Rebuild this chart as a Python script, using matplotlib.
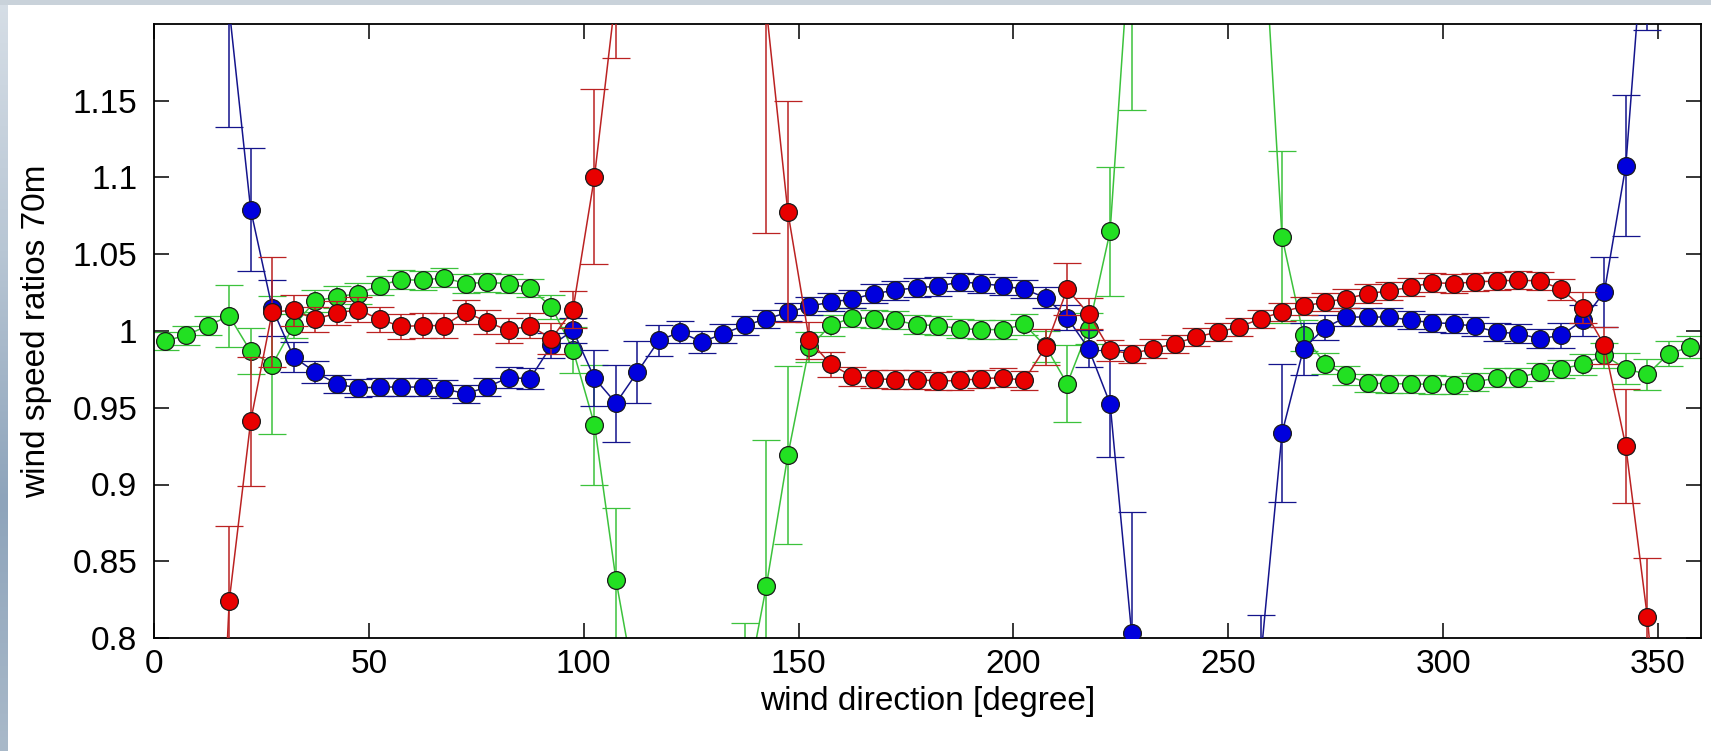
import numpy as np
import matplotlib
matplotlib.use("Agg")
import matplotlib.pyplot as plt
from matplotlib.ticker import FixedLocator, FixedFormatter
from matplotlib.colors import LinearSegmentedColormap

plt.rcParams['font.family'] = ['Liberation Sans', 'DejaVu Sans']

# wind direction bins (degrees)
direction = [2.5 + 5 * i for i in range(72)]

blue_ratio = [1.38, 1.33, 1.26, 1.21, 1.079, 1.015, 0.983, 0.9733, 0.9656, 0.9628,
              0.9635, 0.9635, 0.9635, 0.9624, 0.9591, 0.9635, 0.9696, 0.9689, 0.9906, 1.0004,
              0.9693, 0.953, 0.9733, 0.9939, 0.9993, 0.9928, 0.9983, 1.0037, 1.0078, 1.0122,
              1.0161, 1.0189, 1.0207, 1.0244, 1.0265, 1.0283, 1.0291, 1.032, 1.0309, 1.0294,
              1.0272, 1.0217, 1.0087, 0.9885, 0.9526, 0.803, 0.66, 0.60, 0.58, 0.60,
              0.68, 0.785, 0.9335, 0.9885, 1.0022, 1.0091, 1.0091, 1.0091, 1.007, 1.0054,
              1.0048, 1.003, 0.9993, 0.9983, 0.995, 0.9972, 1.007, 1.0254, 1.1076, 1.29,
              1.36, 1.40]
blue_err = [0.05, 0.05, 0.05, 0.077, 0.040, 0.018, 0.010, 0.007, 0.006, 0.006,
            0.006, 0.006, 0.006, 0.006, 0.006, 0.006, 0.007, 0.007, 0.008, 0.008,
            0.018, 0.025, 0.020, 0.010, 0.007, 0.007, 0.006, 0.006, 0.006, 0.006,
            0.006, 0.006, 0.006, 0.006, 0.006, 0.006, 0.006, 0.006, 0.006, 0.006,
            0.006, 0.007, 0.008, 0.012, 0.035, 0.079, 0.05, 0.05, 0.05, 0.05,
            0.05, 0.03, 0.045, 0.017, 0.008, 0.006, 0.006, 0.006, 0.006, 0.006,
            0.006, 0.006, 0.006, 0.006, 0.006, 0.008, 0.010, 0.023, 0.046, 0.094,
            0.05, 0.05]

red_ratio = [0.50, 0.48, 0.52, 0.824, 0.9413, 1.0124, 1.0135, 1.0076, 1.0117, 1.0139,
             1.0076, 1.003, 1.0035, 1.0035, 1.0124, 1.0059, 1.0004, 1.0035, 0.995, 1.0139,
             1.1005, 1.22, 1.38, 1.45, 1.48, 1.46, 1.40, 1.30, 1.21, 1.0776,
             0.9939, 0.9783, 0.9704, 0.9689, 0.9683, 0.9683, 0.9674, 0.9678, 0.9689, 0.9696,
             0.9678, 0.9896, 1.0272, 1.0113, 0.9874, 0.9852, 0.9885, 0.9917, 0.9961, 0.9993,
             1.0026, 1.008, 1.0124, 1.0161, 1.0189, 1.0211, 1.0244, 1.0261, 1.0287, 1.0315,
             1.0309, 1.032, 1.0326, 1.0331, 1.0326, 1.0272, 1.0152, 0.9907, 0.925, 0.814,
             0.66, 0.55]
red_err = [0.05, 0.05, 0.05, 0.049, 0.042, 0.036, 0.010, 0.008, 0.008, 0.008,
           0.008, 0.008, 0.008, 0.008, 0.008, 0.008, 0.008, 0.008, 0.010, 0.012,
           0.057, 0.042, 0.05, 0.05, 0.05, 0.05, 0.05, 0.05, 0.146, 0.072,
           0.012, 0.008, 0.006, 0.006, 0.006, 0.006, 0.006, 0.006, 0.006, 0.006,
           0.006, 0.012, 0.017, 0.010, 0.007, 0.006, 0.006, 0.006, 0.006, 0.006,
           0.006, 0.006, 0.006, 0.006, 0.006, 0.006, 0.006, 0.006, 0.006, 0.006,
           0.006, 0.006, 0.006, 0.006, 0.006, 0.007, 0.010, 0.012, 0.037, 0.038,
           0.05, 0.05]

green_ratio = [0.9935, 0.9972, 1.0035, 1.0098, 0.9867, 0.978, 1.0033, 1.0196, 1.0222, 1.0244,
               1.0296, 1.0335, 1.033, 1.0348, 1.0309, 1.0317, 1.0309, 1.028, 1.0157, 0.9878,
               0.939, 0.838, 0.76, 0.66, 0.60, 0.60, 0.65, 0.76, 0.834, 0.919,
               0.9896, 1.0037, 1.0087, 1.008, 1.007, 1.0041, 1.0035, 1.0015, 1.0009, 1.0009,
               1.0043, 0.99, 0.9656, 1.0015, 1.065, 1.27, 1.40, 1.48, 1.50, 1.47,
               1.40, 1.30, 1.0613, 0.9972, 0.9787, 0.9711, 0.9661, 0.9656, 0.9656, 0.9652,
               0.965, 0.9667, 0.9696, 0.9696, 0.9733, 0.9754, 0.9783, 0.9841, 0.9754, 0.9717,
               0.9852, 0.9896]
green_err = [0.006, 0.006, 0.006, 0.020, 0.015, 0.045, 0.008, 0.007, 0.007, 0.007,
             0.006, 0.006, 0.006, 0.006, 0.006, 0.006, 0.006, 0.006, 0.008, 0.015,
             0.039, 0.047, 0.03, 0.05, 0.05, 0.05, 0.05, 0.05, 0.095, 0.058,
             0.010, 0.007, 0.006, 0.006, 0.006, 0.006, 0.006, 0.006, 0.006, 0.006,
             0.007, 0.010, 0.025, 0.010, 0.042, 0.126, 0.05, 0.05, 0.05, 0.05,
             0.05, 0.05, 0.056, 0.010, 0.007, 0.006, 0.006, 0.006, 0.006, 0.006,
             0.006, 0.006, 0.006, 0.006, 0.006, 0.006, 0.007, 0.008, 0.010, 0.010,
             0.008, 0.007]

x_ticks = [0, 50, 100, 150, 200, 250, 300, 350]
y_ticks = [0.8, 0.85, 0.9, 0.95, 1.0, 1.05, 1.1, 1.15]
y_tick_labels = ['0.8', '0.85', '0.9', '0.95', '1', '1.05', '1.1', '1.15']

W, H = 1711, 751
fig = plt.figure(figsize=(W / 100, H / 100), dpi=100)
fig.patch.set_facecolor('white')

# decorative slide-background strips (left and top)
bg_left = fig.add_axes([0, 0, 8 / W, 1])
grad = np.linspace(0, 1, 256).reshape(-1, 1)
cm = LinearSegmentedColormap.from_list('bg', ['#d6dee6', '#b8c6d4', '#8ea4bb', '#a9b9c9'])
bg_left.imshow(grad, aspect='auto', cmap=cm, extent=[0, 1, 0, 1], origin='upper')
bg_left.axis('off')
bg_top = fig.add_axes([0, 1 - 5 / H, 1, 5 / H])
bg_top.set_facecolor('#c9d2da')
bg_top.set_xticks([]); bg_top.set_yticks([])
for s in bg_top.spines.values():
    s.set_visible(False)

ax = fig.add_axes([154 / W, 1 - 638 / H, (1701 - 154) / W, (638 - 24) / H])

series = [
    (green_ratio, green_err, '#3cc23c', '#22e022', 2),
    (blue_ratio, blue_err, '#14148c', '#0000dd', 3),
    (red_ratio, red_err, '#bb2222', '#e80000', 4),
]
for vals, errs, lc, fc, z in series:
    ax.errorbar(direction, vals, yerr=errs, fmt='-o', color=lc, lw=1.1,
                elinewidth=1.1, capsize=10, capthick=1.1,
                ms=12.8, mfc=fc, mec='#1a1a1a', mew=0.9, zorder=z)

ax.set_xlim(0, 360)
ax.set_ylim(0.8, 1.2)
ax.xaxis.set_major_locator(FixedLocator(x_ticks))
ax.yaxis.set_major_locator(FixedLocator(y_ticks))
ax.yaxis.set_major_formatter(FixedFormatter(y_tick_labels))
ax.tick_params(direction='in', length=11, width=1.1, top=True, right=True,
               labelsize=24, colors='black')
ax.tick_params(axis='x', pad=8)
ax.tick_params(axis='y', pad=12)
for s in ax.spines.values():
    s.set_linewidth(1.3)
ax.set_xlabel('wind direction [degree]', fontsize=24, labelpad=4)
ax.set_ylabel('wind speed ratios 70m', fontsize=24, labelpad=15)

fig.savefig('out.png', dpi=100, facecolor=fig.get_facecolor())
